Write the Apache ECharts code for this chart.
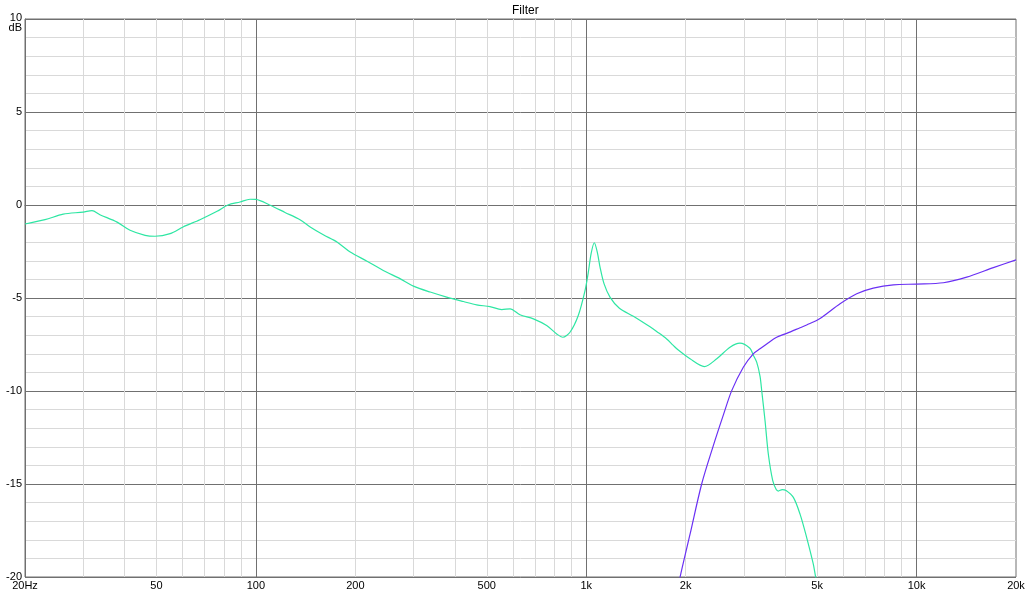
<!DOCTYPE html>
<html>
<head>
<meta charset="utf-8">
<script src="https://cdn.jsdelivr.net/npm/echarts@6/dist/echarts.min.js"></script>
<style>html,body{margin:0;padding:0;background:#fff}#c{width:1028px;height:598px}</style>
</head>
<body>
<div id="c"></div>
<script>
// ---- data ----
const greenFreq = [20, 23, 26.1, 30, 31.9, 33.7, 38, 41.6, 46.2, 49.5, 55, 60.2, 67.7, 76.3, 82.3, 89.5, 96, 100, 110, 122.5, 136, 146, 160, 176, 193, 217, 243, 273, 300, 337, 378, 425, 466, 511, 555, 588, 630, 692, 759, 814, 849, 893, 946, 992, 1013, 1035, 1058, 1082, 1101, 1132, 1180, 1260, 1389, 1560, 1634, 1752, 1835, 1900, 2062, 2278, 2484, 2724, 2920, 3130, 3200, 3281, 3358, 3399, 3478, 3559, 3668, 3760, 3815, 3920, 4026, 4237, 4439, 4649, 4869, 4953, 5100];
const greenDb = [-1.02, -0.79, -0.49, -0.38, -0.30, -0.52, -0.92, -1.36, -1.63, -1.68, -1.54, -1.18, -0.79, -0.34, 0.0, 0.16, 0.31, 0.30, 0.0, -0.40, -0.79, -1.18, -1.60, -1.99, -2.53, -3.02, -3.52, -3.96, -4.36, -4.68, -4.95, -5.19, -5.37, -5.46, -5.62, -5.58, -5.90, -6.12, -6.48, -6.93, -7.11, -6.84, -5.94, -4.59, -3.7, -2.6, -2.03, -2.6, -3.34, -4.23, -4.95, -5.55, -5.98, -6.55, -6.8, -7.2, -7.55, -7.8, -8.27, -8.69, -8.27, -7.65, -7.43, -7.7, -8.05, -8.45, -9.2, -10.0, -11.6, -13.4, -14.8, -15.3, -15.38, -15.3, -15.35, -15.72, -16.62, -17.88, -19.31, -20.03, -21.0];
const purpleFreq = [1850, 1922, 2062, 2236, 2424, 2600, 2757, 2989, 3204, 3358, 3518, 3771, 4045, 4439, 4649, 5102, 5866, 6590, 7396, 8506, 10010, 12052, 14186, 17080, 20000];
const purpleDb = [-21.5, -20.03, -17.70, -15.0, -12.95, -11.3, -9.98, -8.72, -8.0, -7.73, -7.47, -7.11, -6.9, -6.60, -6.45, -6.1, -5.31, -4.77, -4.47, -4.29, -4.25, -4.18, -3.88, -3.37, -2.95];
const xTickValues = [20, 50, 100, 200, 500, 1000, 2000, 5000, 10000, 20000];
const xTickLabels = ['20Hz', '50', '100', '200', '500', '1k', '2k', '5k', '10k', '20k'];
const xMinorGrid = [30, 40, 50, 60, 70, 80, 90, 200, 300, 400, 500, 600, 700, 800, 900, 2000, 3000, 4000, 5000, 6000, 7000, 8000, 9000];
const xMajorGrid = [100, 1000, 10000];
const yTicks = [-20, -15, -10, -5, 0, 5, 10];
const yUnit = 'dB';

const pairs = (xs, ys) => xs.map((x, i) => [x, ys[i]]);
const MAJOR = '#707070', MINOR = '#d9d9d9';
const FONT = 'Liberation Sans, Arial, sans-serif';

const chart = echarts.init(document.getElementById('c'), null, {renderer: 'canvas'});
chart.setOption({
  animation: false,
  backgroundColor: '#ffffff',
  title: {
    text: 'Filter', left: 507, top: 0,
    textStyle: {fontSize: 12, fontWeight: 'normal', color: '#000', fontFamily: FONT}
  },
  grid: {left: 25, right: 12, top: 19, bottom: 21, show: true, borderColor: MAJOR, borderWidth: 1, backgroundColor: '#fff'},
  xAxis: {
    type: 'log', logBase: 10, min: 20, max: 20000,
    axisLine: {show: true, lineStyle: {color: MAJOR}},
    axisTick: {show: false},
    splitLine: {show: false},
    axisLabel: {
      show: true, margin: 3, color: '#000', fontSize: 11, fontFamily: FONT,
      customValues: xTickValues,
      showMinLabel: true, showMaxLabel: true,
      formatter: v => {
        const i = xTickValues.findIndex(t => Math.abs(t - v) / t < 1e-6);
        return i >= 0 ? xTickLabels[i] : '';
      }
    }
  },
  yAxis: {
    type: 'value', min: -20, max: 10, interval: 5,
    axisLine: {show: true, lineStyle: {color: MAJOR}},
    axisTick: {show: false},
    minorTick: {show: false, splitNumber: 5},
    splitLine: {show: true, lineStyle: {color: MAJOR, width: 1}},
    minorSplitLine: {show: true, lineStyle: {color: MINOR, width: 1}},
    axisLabel: {
      margin: 3, color: '#000', fontSize: 11, fontFamily: FONT,
      formatter: v => {
        if (yTicks.indexOf(v) < 0) return '';
        if (v === 10) return '{top|' + v + '\n' + yUnit + '}';
        return String(v);
      },
      rich: {
        top: {fontSize: 11, lineHeight: 10, color: '#000', fontFamily: FONT, padding: [7, 0, 0, 0], align: 'right'}
      }
    }
  },
  series: [
    {
      type: 'line', name: 'grid', data: [], silent: true, z: 1,
      markLine: {
        silent: true, symbol: ['none', 'none'], animation: false, z: 1,
        label: {show: false},
        data: xMinorGrid.map(v => ({xAxis: v, lineStyle: {color: MINOR, width: 1, type: 'solid'}}))
          .concat(xMajorGrid.map(v => ({xAxis: v, lineStyle: {color: MAJOR, width: 1, type: 'solid'}})))
      }
    },
    {
      type: 'line', name: 'woofer', data: pairs(greenFreq, greenDb), showSymbol: false, smooth: 0.3, z: 3,
      clip: true, lineStyle: {color: '#2ee6a3', width: 1.2}, itemStyle: {color: '#2ee6a3'}
    },
    {
      type: 'line', name: 'tweeter', data: pairs(purpleFreq, purpleDb), showSymbol: false, smooth: 0.3, z: 3,
      clip: true, lineStyle: {color: '#6a30f4', width: 1.2}, itemStyle: {color: '#6a30f4'}
    }
  ]
});
</script>
</body>
</html>
